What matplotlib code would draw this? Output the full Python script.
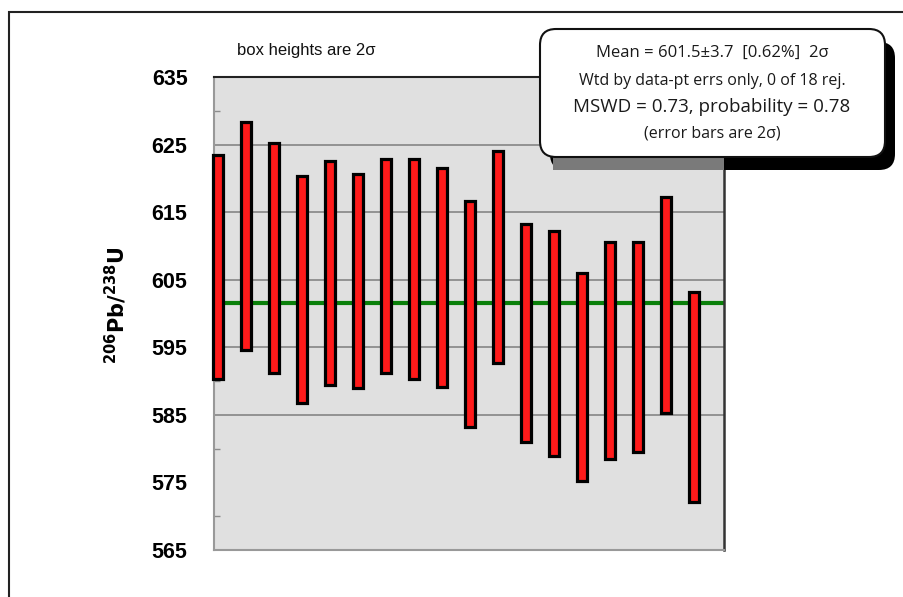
import numpy as np
import matplotlib
matplotlib.use('Agg')
import matplotlib.pyplot as plt
import matplotlib.patches as patches
from matplotlib.transforms import IdentityTransform

# 206Pb/238U ages (Ma) and their 2-sigma errors, one per analysis
ages = [606.9, 611.45, 608.2, 603.55, 606.0, 604.8, 607.05, 606.6, 605.3,
        599.9, 608.35, 597.1, 595.55, 590.6, 594.55, 595.05, 601.25, 587.65]
errs_2s = [16.6, 16.85, 17.0, 16.75, 16.6, 15.8, 15.85, 16.3, 16.2,
           16.7, 15.65, 16.1, 16.65, 15.4, 16.05, 15.55, 15.95, 15.55]
wtd_mean = 601.5
y_ticks = [635, 625, 615, 605, 595, 585, 575, 565]
grid_levels = [625, 615, 605, 595, 585]
stats_lines = ['Mean = 601.5\u00b13.7  [0.62%]  2\u03c3',
               'Wtd by data-pt errs only, 0 of 18 rej.',
               'MSWD = 0.73, probability = 0.78',
               '(error bars are 2\u03c3)']

W, H = 904, 597
fig = plt.figure(figsize=(W / 100, H / 100), dpi=100)
fig.patch.set_facecolor('white')

ax = fig.add_axes([214 / W, 1 - 550 / H, (724 - 214) / W, (550 - 77) / H])
ax.set_facecolor('#e0e0e0')

n = len(ages)
xs = np.arange(1, n + 1)
ax.set_xlim(0.857, 19.07)
ax.set_ylim(565, 635)

for lvl in grid_levels:
    ax.axhline(lvl, color='#8c8c8c', lw=1.3, zorder=1)

ax.axhline(wtd_mean, color='#0a800a', lw=3.0, zorder=2)

bw = 0.33
for x, a, e in zip(xs, ages, errs_2s):
    rect = patches.Rectangle((x - bw / 2, a - e), bw, 2 * e, facecolor='#ff1a1a',
                             edgecolor='black', linewidth=2.3, zorder=3, clip_on=False)
    ax.add_patch(rect)

ax.set_xticks([])
ax.set_yticks(y_ticks)
ax.set_yticklabels([str(t) for t in y_ticks], fontsize=15.5, fontweight='bold',
                   family='Liberation Sans')
ax.tick_params(axis='y', which='major', length=0, pad=19)
ax.set_yticks(np.arange(570, 635, 10), minor=True)
ax.tick_params(axis='y', which='minor', direction='in', length=4, color='#8c8c8c', width=1)

for side in ['left', 'bottom']:
    ax.spines[side].set_color('#999999')
    ax.spines[side].set_linewidth(1.5)
ax.spines['right'].set_color('#333333')
ax.spines['right'].set_linewidth(1.8)
ax.spines['top'].set_color('#222222')
ax.spines['top'].set_linewidth(1.5)

fig.text(116 / W, 1 - 305 / H, r'$\mathbf{^{206}Pb/^{238}U}$', rotation=90,
         ha='center', va='center', fontsize=15, fontweight='bold')

fig.text(237 / W, 1 - 50 / H, 'box heights are 2\u03c3', fontsize=12,
         ha='left', va='center', family='Liberation Sans', color='#111111')

# outer frame
frame = patches.Rectangle((9, -20), 1000, H - 12 + 20, transform=IdentityTransform(),
                          fill=False, edgecolor='#222222', linewidth=1.5)
fig.patches.append(frame)

# stats box with drop shadow
bx0, bx1, by_top, by_bot = 540, 885, 29, 157
shadow = patches.FancyBboxPatch((bx0 + 10, H - by_bot - 13), bx1 - bx0, by_bot - by_top,
                                boxstyle='round,pad=0,rounding_size=16',
                                transform=IdentityTransform(), facecolor='black',
                                edgecolor='none')
fig.patches.append(shadow)
shade = patches.Rectangle((553, H - by_bot - 13), 724 - 553, 14, transform=IdentityTransform(),
                          facecolor='#7a7a7a', edgecolor='none')
fig.patches.append(shade)
box = patches.FancyBboxPatch((bx0, H - by_bot), bx1 - bx0, by_bot - by_top,
                             boxstyle='round,pad=0,rounding_size=16',
                             transform=IdentityTransform(), facecolor='white',
                             edgecolor='#111111', linewidth=1.5)
fig.patches.append(box)

line_y = [53, 81, 107, 134]
line_fs = [12, 11.5, 13.5, 11.5]
for txt, yy, fs in zip(stats_lines, line_y, line_fs):
    fig.text(712 / W, 1 - yy / H, txt, fontsize=fs, ha='center', va='center',
             family='Open Sans', color='#1a1a1a')

fig.savefig('out.png', dpi=100)
